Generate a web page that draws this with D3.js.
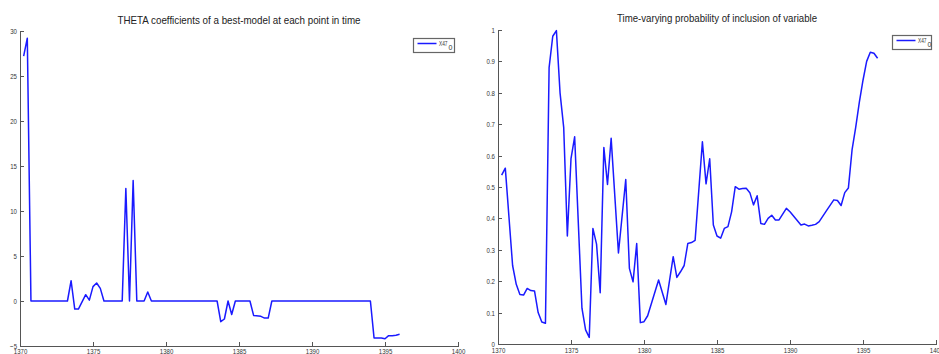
<!DOCTYPE html>
<html>
<head>
<meta charset="utf-8">
<script src="https://cdn.jsdelivr.net/npm/d3@7"></script>
<style>
  body { margin: 0; background: #fff; }
  svg { display: block; }
  .axis path, .axis line { stroke: #555; shape-rendering: crispEdges; }
  .axis text { font-family: "Liberation Sans", Arial, sans-serif; font-size: 8px; fill: #333; }
  .title { font-family: "Liberation Sans", Arial, sans-serif; font-size: 11px; fill: #222; }
  .legend text { font-family: "Liberation Sans", Arial, sans-serif; font-size: 7px; fill: #333; }
</style>
</head>
<body>
<svg id="chart" width="939" height="354"></svg>
<script>
'use strict';

// left panel: THETA coefficients
const thetaYears = [1370.25, 1370.5, 1370.75, 1373.25, 1373.5, 1373.75, 1374.0, 1374.5, 1374.75,
    1375.0, 1375.25, 1375.5, 1375.75, 1377.0, 1377.25, 1377.5, 1377.75, 1378.0, 1378.5, 1378.75,
    1379.0, 1383.5, 1383.75, 1384.0, 1384.25, 1384.5, 1384.75, 1385.75, 1386.0, 1386.5, 1386.75,
    1387.0, 1387.25, 1394.0, 1394.25, 1394.5, 1394.75, 1395.0, 1395.25, 1395.5, 1395.75, 1396.0];
const thetaValues = [27.2, 29.2, 0, 0, 2.25, -0.9, -0.9, 0.7, 0.1,
    1.6, 2.0, 1.4, 0, 0, 12.5, 0, 13.4, 0, 0, 1.0,
    0, 0, -2.3, -2.0, 0, -1.5, 0, 0, -1.6, -1.7, -1.9,
    -1.9, 0, 0, -4.1, -4.1, -4.1, -4.2, -3.85, -3.85, -3.8, -3.7];

// right panel: probability of inclusion
const probYears = [1370.25, 1370.5, 1371.0, 1371.25, 1371.5, 1371.75, 1372.0, 1372.25, 1372.5, 1372.75,
    1373.0, 1373.25, 1373.5, 1373.75, 1374.0, 1374.25, 1374.5, 1374.75, 1375.0, 1375.25,
    1375.75, 1376.0, 1376.25, 1376.5, 1376.75, 1377.0, 1377.25, 1377.5, 1377.75, 1378.25,
    1378.75, 1379.0, 1379.25, 1379.5, 1379.75, 1380.0, 1380.25, 1381.0, 1381.5, 1382.0,
    1382.25, 1382.5, 1382.75, 1383.0, 1383.25, 1383.5, 1384.0, 1384.25, 1384.5, 1384.75,
    1385.0, 1385.25, 1385.5, 1385.75, 1386.0, 1386.25, 1386.5, 1386.75, 1387.0, 1387.25,
    1387.5, 1387.75, 1388.0, 1388.25, 1388.5, 1388.75, 1389.0, 1389.25, 1389.75, 1390.0,
    1390.75, 1391.0, 1391.25, 1391.5, 1391.75, 1392.0, 1392.5, 1393.0, 1393.25, 1393.5,
    1393.75, 1394.0, 1394.25, 1394.5, 1394.75, 1395.0, 1395.25, 1395.5, 1395.75, 1396.0];
const probValues = [0.538, 0.56, 0.25, 0.19, 0.158, 0.156, 0.177, 0.17, 0.169, 0.10,
    0.07, 0.066, 0.88, 0.98, 0.998, 0.80, 0.69, 0.344, 0.59, 0.66,
    0.114, 0.045, 0.021, 0.368, 0.318, 0.163, 0.626, 0.508, 0.655, 0.29,
    0.524, 0.241, 0.198, 0.32, 0.068, 0.071, 0.09, 0.204, 0.126, 0.278,
    0.212, 0.23, 0.25, 0.32, 0.323, 0.33, 0.644, 0.51, 0.59, 0.379,
    0.344, 0.337, 0.368, 0.374, 0.421, 0.501, 0.493, 0.495, 0.496, 0.482,
    0.443, 0.472, 0.384, 0.381, 0.40, 0.41, 0.395, 0.395, 0.432, 0.421,
    0.379, 0.382, 0.376, 0.378, 0.381, 0.39, 0.425, 0.459, 0.457, 0.441,
    0.482, 0.497, 0.618, 0.69, 0.77, 0.84, 0.90, 0.929, 0.926, 0.91];

const yearTicks = [1370, 1375, 1380, 1385, 1390, 1395, 1400];
const thetaTicks = [-5, 0, 5, 10, 15, 20, 25, 30];
const probTicks = [0, 0.1, 0.2, 0.3, 0.4, 0.5, 0.6, 0.7, 0.8, 0.9, 1];
const seriesName = 'X47';

const LINE_COLOR = '#1a1aff';
const TICK_SIZE = 4;
const NARROW = 0.76; // matlab export squeezed the text horizontally

const svg = d3.select('#chart');

// squeeze a text selection to a fraction of its natural width
function squeeze(sel, k) {
    sel.each(function () {
        const w = this.getComputedTextLength();
        d3.select(this)
            .attr('textLength', w * k)
            .attr('lengthAdjust', 'spacingAndGlyphs');
    });
}

function drawPanel(cfg) {
    const x = d3.scaleLinear().domain([1370, 1400]).range([cfg.left, cfg.left + 438]);
    const y = d3.scaleLinear().domain(cfg.yDomain).range([cfg.bottom, cfg.top]);

    const g = svg.append('g');

    const gx = g.append('g')
        .attr('class', 'axis')
        .attr('transform', 'translate(0,' + cfg.bottom + ')')
        .call(d3.axisBottom(x).tickValues(yearTicks).tickSizeInner(-TICK_SIZE).tickSizeOuter(0).tickPadding(cfg.xPad).tickFormat(d3.format('d')));
    gx.selectAll('text').attr('dy', '0.8em').call(squeeze, NARROW);

    const gy = g.append('g')
        .attr('class', 'axis')
        .attr('transform', 'translate(' + cfg.left + ',0)')
        .call(d3.axisLeft(y).tickValues(cfg.yTicks).tickSizeInner(-TICK_SIZE).tickSizeOuter(0).tickPadding(3).tickFormat(cfg.fmt));
    gy.selectAll('text').call(squeeze, NARROW);

    const line = d3.line()
        .x(d => x(d[0]))
        .y(d => y(d[1]));

    g.append('path')
        .datum(d3.zip(cfg.years, cfg.values))
        .attr('fill', 'none')
        .attr('stroke', LINE_COLOR)
        .attr('stroke-width', 1.5)
        .attr('stroke-linejoin', 'round')
        .attr('d', line);

    g.append('text')
        .attr('class', 'title')
        .attr('x', cfg.titleX)
        .attr('y', cfg.titleY)
        .attr('text-anchor', 'middle')
        .attr('textLength', cfg.titleWidth)
        .attr('lengthAdjust', 'spacingAndGlyphs')
        .text(cfg.title);

    // legend
    const lg = g.append('g').attr('class', 'legend')
        .attr('transform', 'translate(' + cfg.legend[0] + ',' + cfg.legend[1] + ')');
    lg.append('rect')
        .attr('x', 0).attr('y', 0)
        .attr('width', cfg.legend[2]).attr('height', 14)
        .attr('fill', '#fff')
        .attr('stroke', '#666')
        .attr('stroke-width', 1.2);
    lg.append('line')
        .attr('x1', 4).attr('x2', 23)
        .attr('y1', 5).attr('y2', 5)
        .attr('stroke', LINE_COLOR)
        .attr('stroke-width', 1.5);
    lg.append('text')
        .attr('x', 25.5).attr('y', 7.5)
        .attr('textLength', 8.5)
        .attr('lengthAdjust', 'spacingAndGlyphs')
        .text(seriesName);
    lg.append('text')
        .attr('x', 35).attr('y', 11)
        .attr('font-size', '4.5px')
        .text('0');
}

drawPanel({
    left: 20, top: 31, bottom: 346, xPad: 2,
    yDomain: [-5, 30], yTicks: thetaTicks, fmt: d3.format('d'),
    years: thetaYears, values: thetaValues,
    title: 'THETA coefficients of a best-model at each point in time',
    titleX: 239, titleY: 24, titleWidth: 243,
    legend: [413.5, 38.5, 41]
});

drawPanel({
    left: 498, top: 30, bottom: 344, xPad: 3,
    yDomain: [0, 1], yTicks: probTicks, fmt: d => d === 0 || d === 1 ? d3.format('d')(d) : d3.format('.1f')(d),
    years: probYears, values: probValues,
    title: 'Time-varying probability of inclusion of variable',
    titleX: 717, titleY: 22, titleWidth: 200,
    legend: [892.5, 35.5, 39]
});
</script>
</body>
</html>
